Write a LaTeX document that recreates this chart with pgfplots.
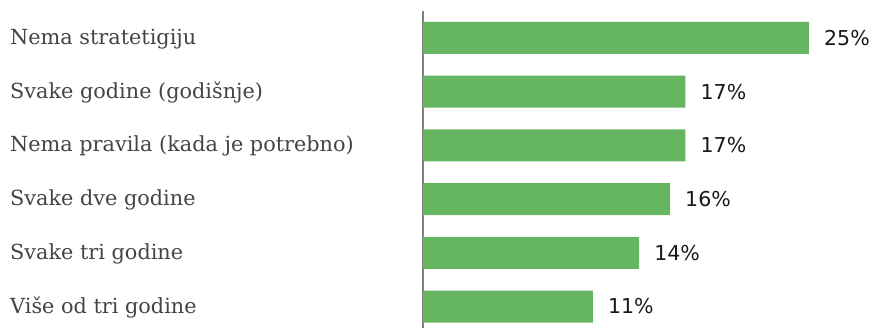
\documentclass[border=0pt]{standalone}
\usepackage{fontspec}
\setmainfont{DejaVu Serif}
\newfontfamily\valfont{DejaVu Sans}
\usepackage{pgfplots}
\pgfplotsset{compat=1.18}
\definecolor{barg}{RGB}{102,181,96}
\definecolor{lab}{RGB}{68,68,68}
\definecolor{val}{RGB}{25,25,25}
\begin{document}
\begin{tikzpicture}
\begin{axis}[
  name=ax,
  scale only axis,
  width=386pt, height=317pt,
  xmin=0, xmax=25,
  ymin=-0.5, ymax=5.4,
  y dir=reverse,
  axis x line=none,
  axis y line*=left,
  y axis line style={draw=black!50, line width=2pt},
  ytick={0,1,2,3,4,5},
  yticklabels={Nema stratetigiju, Svake godine (godišnje), Nema pravila (kada je potrebno), Svake dve godine, Svake tri godine, Više od tri godine},
  major tick length=0pt,
  yticklabel style={anchor=west, xshift=-413pt, yshift=-1pt, inner sep=0pt, text=lab, font=\fontsize{20.8}{24}\selectfont},
  xbar, bar width=32pt,
  clip=false,
  /pgf/number format/assume math mode=true,
  nodes near coords={\pgfmathprintnumber{\pgfplotspointmeta}\%},
  nodes near coords style={anchor=west, inner sep=0pt, xshift=15pt, text=val, font=\valfont\fontsize{20.5}{24}\selectfont},
]
\addplot[fill=barg, draw=none] coordinates {(25,0) (17,1) (17,2) (16,3) (14,4) (11,5)};
\end{axis}
\pgfresetboundingbox
\path ([xshift=-423pt]ax.south west) rectangle ([xshift=452pt,yshift=11pt]ax.north west);
\end{tikzpicture}
\end{document}
